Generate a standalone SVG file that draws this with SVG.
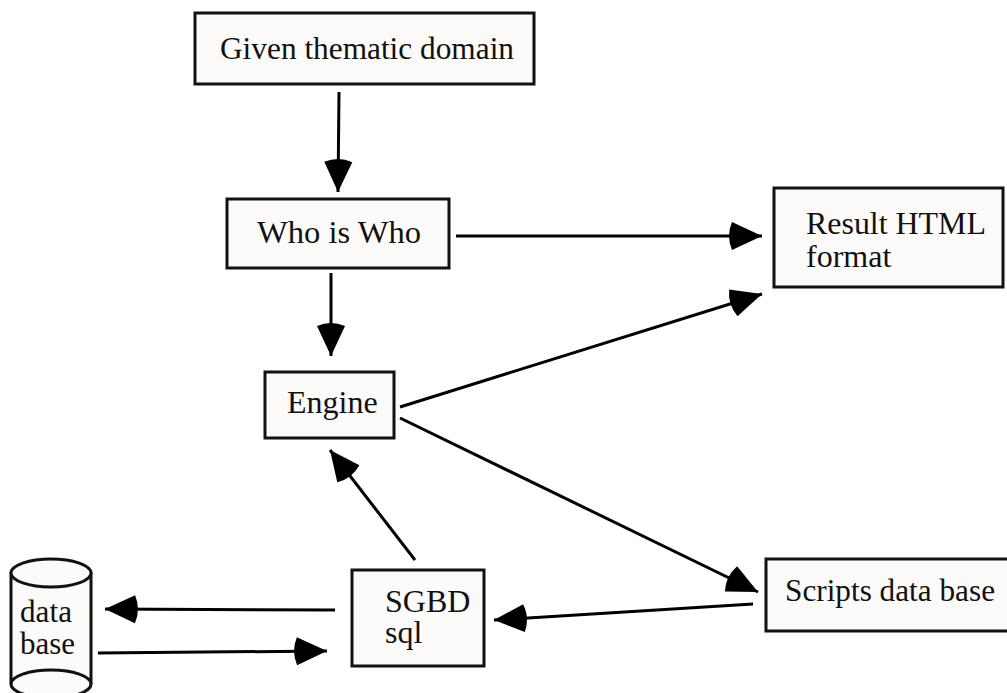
<svg xmlns="http://www.w3.org/2000/svg" width="1007" height="693" viewBox="0 0 1007 693">
<style>
.box{fill:#fcfbfa;stroke:#111;stroke-width:3}
.t{font-family:"Liberation Serif","Times New Roman",serif;font-size:32px;fill:#111}
.c{fill:none;stroke:#000;stroke-width:3;marker-end:url(#h)}
</style>
<defs><marker id="h" markerUnits="userSpaceOnUse" markerWidth="40" markerHeight="34" refX="35" refY="16" orient="auto" overflow="visible"><path d="M35 16L5 2Q-1 16 5 30Z" fill="#000"/></marker></defs>
<rect width="1007" height="693" fill="#fff"/>
<g id="connectors">
<path class="c" d="M339 92L338 192"/>
<path class="c" d="M331 273L331 356"/>
<path class="c" d="M456 236L762 236"/>
<path class="c" d="M400 407L762 294"/>
<path class="c" d="M400 418L758 592"/>
<path class="c" d="M415 560L330 450"/>
<path class="c" d="M753 604L494 620"/>
<path class="c" d="M335 610L105 609"/>
<path class="c" d="M98 653L327 651"/>
</g>
<g id="given"><rect class="box" x="195" y="13" width="339" height="71"/><text class="t" x="220" y="59" textLength="294" lengthAdjust="spacingAndGlyphs">Given thematic domain</text></g>
<g id="who"><rect class="box" x="227" y="199" width="222" height="69"/><text class="t" x="257" y="243" textLength="164" lengthAdjust="spacingAndGlyphs">Who is Who</text></g>
<g id="result"><rect class="box" x="774" y="188" width="229" height="99"/><text class="t" x="806" y="234" textLength="180" lengthAdjust="spacingAndGlyphs">Result HTML</text><text class="t" x="806" y="267">format</text></g>
<g id="engine"><rect class="box" x="265" y="372" width="129" height="66"/><text class="t" x="287" y="413">Engine</text></g>
<g id="sgbd"><rect class="box" x="352" y="570" width="132" height="96"/><text class="t" x="385" y="612">SGBD</text><text class="t" x="385" y="643">sql</text></g>
<g id="scripts"><rect class="box" x="766" y="559" width="245" height="72"/><text class="t" x="785" y="601" textLength="210" lengthAdjust="spacingAndGlyphs">Scripts data base</text></g>
<g id="database">
<path class="box" d="M11 573V684A40 14 0 0 0 91 684V573Z"/>
<ellipse class="box" cx="51" cy="573" rx="40" ry="14"/>
<path fill="none" stroke="#111" stroke-width="3" d="M11 684A40 14 0 0 1 91 684"/>
<text class="t" x="20" y="622" textLength="52" lengthAdjust="spacingAndGlyphs">data</text><text class="t" x="20" y="654" textLength="55" lengthAdjust="spacingAndGlyphs">base</text>
</g>
</svg>
